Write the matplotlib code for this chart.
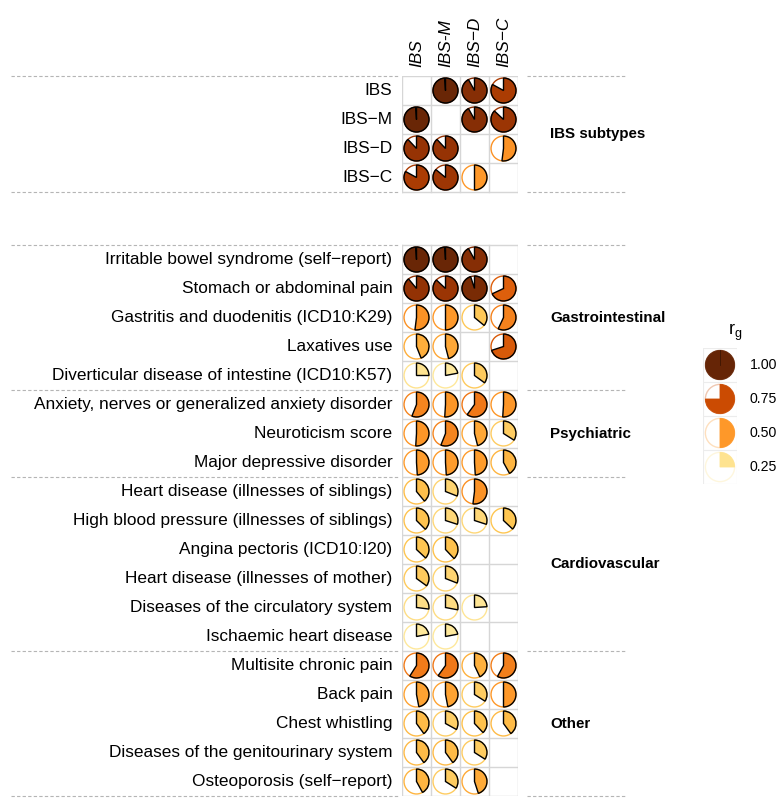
import numpy as np
import matplotlib
matplotlib.use('Agg')
import matplotlib.pyplot as plt
from matplotlib.patches import Wedge, Circle
from matplotlib.lines import Line2D

plt.rcParams['font.family'] = ['Liberation Sans', 'DejaVu Sans']

nan = np.nan

# ---- data ----
col_labels = ['IBS', 'IBS-M', 'IBS\u2212D', 'IBS\u2212C']
subtype_labels = ['IBS', 'IBS\u2212M', 'IBS\u2212D', 'IBS\u2212C']
subtype_rg = [
    [nan, 0.99, 0.92, 0.83],
    [0.99, nan, 0.92, 0.87],
    [0.88, 0.88, nan, 0.52],
    [0.83, 0.86, 0.50, nan],
]

trait_labels = [
    'Irritable bowel syndrome (self\u2212report)',
    'Stomach or abdominal pain',
    'Gastritis and duodenitis (ICD10:K29)',
    'Laxatives use',
    'Diverticular disease of intestine (ICD10:K57)',
    'Anxiety, nerves or generalized anxiety disorder',
    'Neuroticism score',
    'Major depressive disorder',
    'Heart disease (illnesses of siblings)',
    'High blood pressure (illnesses of siblings)',
    'Angina pectoris (ICD10:I20)',
    'Heart disease (illnesses of mother)',
    'Diseases of the circulatory system',
    'Ischaemic heart disease',
    'Multisite chronic pain',
    'Back pain',
    'Chest whistling',
    'Diseases of the genitourinary system',
    'Osteoporosis (self\u2212report)',
]
trait_rg = [
    [0.99, 0.99, 0.92, nan],
    [0.89, 0.87, 0.95, 0.68],
    [0.52, 0.50, 0.36, 0.57],
    [0.44, 0.46, nan, 0.70],
    [0.25, 0.22, 0.35, nan],
    [0.56, 0.51, 0.60, 0.51],
    [0.51, 0.56, 0.46, 0.34],
    [0.49, 0.49, 0.49, 0.42],
    [0.39, 0.31, 0.52, nan],
    [0.375, 0.30, 0.30, 0.37],
    [0.37, 0.38, nan, nan],
    [0.35, 0.31, nan, nan],
    [0.27, 0.28, 0.24, nan],
    [0.22, 0.22, nan, nan],
    [0.59, 0.60, 0.43, 0.58],
    [0.47, 0.47, 0.34, 0.50],
    [0.40, 0.33, 0.38, 0.40],
    [0.40, 0.40, 0.34, nan],
    [0.42, 0.34, 0.45, nan],
]
group_names = ['Gastrointestinal', 'Psychiatric', 'Cardiovascular', 'Other']
group_sizes = [5, 3, 6, 5]

legend_values = [1.00, 0.75, 0.50, 0.25]

cmap = plt.get_cmap('YlOrBr')

# ---- layout ----
W, H = 783, 806
fig = plt.figure(figsize=(W / 100, H / 100), dpi=100)

px = 29.0                     # cell size in pixels
grid_left, grid_top, grid_bottom = 402, 76, 796
n_sub, n_tr = len(subtype_labels), len(trait_labels)
total = (grid_bottom - grid_top) / px
gap = total - n_sub - n_tr
ax = fig.add_axes([grid_left / W, 1 - grid_bottom / H, 4 * px / W, (grid_bottom - grid_top) / H])
ax.set_xlim(0, 4)
ax.set_ylim(total, 0)
ax.axis('off')

R = 0.43
grid_col = '#d6d6d6'


def draw_pie(a, x, y, v, r, edge='black', ring_alpha=1.0, lw=1.0):
    c = cmap(v)
    a.add_patch(Circle((x, y), r, facecolor='white', edgecolor=c, lw=1.0, alpha=ring_alpha, zorder=3))
    a.add_patch(Wedge((x, y), r, -90, -90 + 360 * v, facecolor=c,
                      edgecolor=edge if edge else c, lw=lw, zorder=4))


def draw_block(labels, values, y0):
    n = len(labels)
    for k in range(n + 1):
        ax.plot([0, 4], [y0 + k, y0 + k], color=grid_col, lw=1.0, zorder=1)
    for k in range(5):
        ax.plot([k, k], [y0, y0 + n], color=grid_col, lw=1.0, zorder=1)
    for i, (lab, row) in enumerate(zip(labels, values)):
        yc = y0 + i + 0.5
        ax.text(-0.33, yc, lab, ha='right', va='center', fontsize=12.4)
        for j, v in enumerate(row):
            if not np.isnan(v):
                draw_pie(ax, j + 0.5, yc, v, R)


def sep(y):
    for x0, x1 in [(-13.5, -0.14), (4.3, 7.7)]:
        ax.add_line(Line2D([x0, x1], [y, y], color='#b5b5b5', lw=0.8,
                           ls=(0, (3, 2)), clip_on=False))


draw_block(subtype_labels, subtype_rg, 0)
y_tr = n_sub + gap
draw_block(trait_labels, trait_rg, y_tr)

# column labels
for j, lab in enumerate(col_labels):
    ax.text(j + 0.5, -0.3, lab, rotation=90, ha='center', va='bottom',
            fontsize=12.4, style='italic')

# separators and group labels
sep(0)
sep(n_sub)
ax.text(5.1, n_sub / 2, 'IBS subtypes', ha='left', va='center', fontsize=10.9, fontweight='bold')
start = y_tr
sep(start)
for name, size in zip(group_names, group_sizes):
    ax.text(5.1, start + size / 2, name, ha='left', va='center', fontsize=10.9, fontweight='bold')
    start += size
    sep(start)

# ---- legend ----
lc = 34.0
lg_left, lg_top = 703, 348
lax = fig.add_axes([lg_left / W, 1 - (lg_top + 4 * lc) / H, lc / W, 4 * lc / H])
lax.set_xlim(0, 1)
lax.set_ylim(4, 0)
lax.axis('off')
for k in range(5):
    lax.plot([0, 1], [k, k], color='#ececec', lw=0.8)
lax.plot([0, 0], [0, 4], color='#ececec', lw=0.8)
lax.plot([1, 1], [0, 4], color='#ececec', lw=0.8)
for i, v in enumerate(legend_values):
    draw_pie(lax, 0.5, i + 0.5, v, 0.43, edge=None, ring_alpha=0.3, lw=0.6)
    if v == 1.0:
        lax.plot([0.5, 0.5], [i + 0.5, i + 0.07], color='#3d1502', lw=0.6, zorder=5)
    lax.text(1.38, i + 0.5, f'{v:.2f}', ha='left', va='center', fontsize=10.2)
lax.text(0.95, -0.45, r'r$_\mathregular{g}$', ha='center', va='center', fontsize=13)

fig.savefig('out.png', dpi=100)
